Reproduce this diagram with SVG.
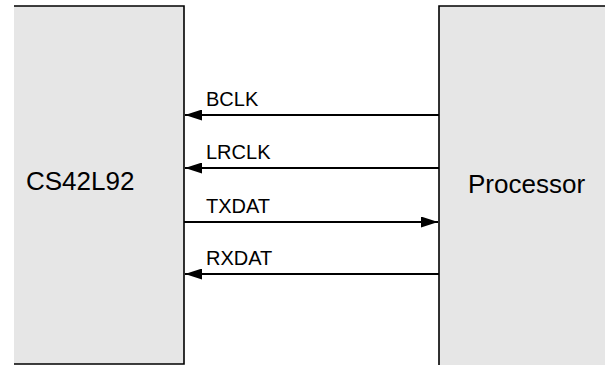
<svg xmlns="http://www.w3.org/2000/svg" width="605" height="365" viewBox="0 0 605 365">
<style>
.box{fill:#e6e6e6;stroke:none}
.edge{fill:none;stroke:#000;stroke-width:1.6}
.wire{fill:none;stroke:#000;stroke-width:1.8}
.big{font-family:"Liberation Sans",Arial,sans-serif;font-size:26px;fill:#000}
.lbl{font-family:"Liberation Sans",Arial,sans-serif;font-size:20px;fill:#000}
</style>
<defs>
<marker id="ah" viewBox="0 0 17 11" refX="17" refY="5.5" markerWidth="17" markerHeight="11" markerUnits="userSpaceOnUse" orient="auto">
<path d="M0,0 L17,5.5 L0,11 Z" fill="#000"/>
</marker>
</defs>
<g id="cs42l92">
<rect class="box" x="14" y="6" width="170" height="358"/>
<path class="edge" d="M14,6 H184 V364 H14"/>
<text class="big" x="26" y="190">CS42L92</text>
</g>
<g id="processor">
<rect class="box" x="439" y="6" width="166" height="359"/>
<path class="edge" d="M605,6 H439 V365"/>
<text class="big" x="468" y="193">Processor</text>
</g>
<g id="connectors">
<line class="wire" x1="439" y1="115" x2="185" y2="115" marker-end="url(#ah)"/>
<line class="wire" x1="439" y1="168" x2="185" y2="168" marker-end="url(#ah)"/>
<line class="wire" x1="184" y1="222" x2="438" y2="222" marker-end="url(#ah)"/>
<line class="wire" x1="439" y1="274" x2="185" y2="274" marker-end="url(#ah)"/>
<text class="lbl" x="206" y="106">BCLK</text>
<text class="lbl" x="206" y="159">LRCLK</text>
<text class="lbl" x="206" y="213">TXDAT</text>
<text class="lbl" x="206" y="265">RXDAT</text>
</g>
</svg>
